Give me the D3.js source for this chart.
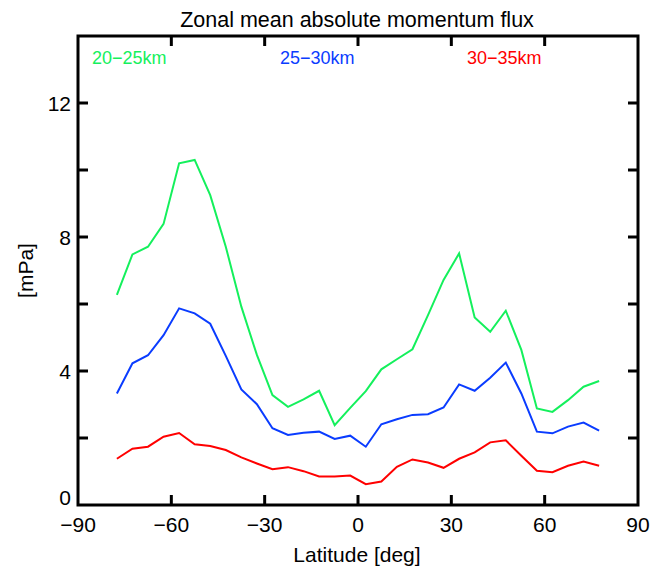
<!DOCTYPE html>
<html>
<head>
<meta charset="utf-8">
<script src="https://cdn.jsdelivr.net/npm/d3@7"></script>
<style>
  html, body { margin: 0; padding: 0; background: #fff; }
  svg { display: block; font-family: "Liberation Sans", Arial, Helvetica, sans-serif; }
</style>
</head>
<body>
<svg id="chart" width="650" height="571"></svg>
<script>
const latitudes = [-77.5,-72.5,-67.5,-62.5,-57.5,-52.5,-47.5,-42.5,-37.5,-32.5,-27.5,-22.5,-17.5,-12.5,-7.5,-2.5,
                   2.5,7.5,12.5,17.5,22.5,27.5,32.5,37.5,42.5,47.5,52.5,57.5,62.5,67.5,72.5,77.5];
const flux20_25 = [6.27,7.48,7.71,8.39,10.20,10.30,9.25,7.71,5.92,4.48,3.28,2.93,3.15,3.41,2.38,2.90,
                   3.40,4.05,4.35,4.65,5.67,6.72,7.51,5.60,5.17,5.80,4.63,2.88,2.78,3.13,3.53,3.70];
const flux25_30 = [3.33,4.23,4.47,5.07,5.87,5.72,5.41,4.45,3.45,3.01,2.29,2.09,2.16,2.19,1.97,2.07,
                   1.74,2.41,2.56,2.69,2.71,2.91,3.60,3.41,3.80,4.25,3.33,2.19,2.14,2.34,2.46,2.22];
const flux30_35 = [1.38,1.68,1.74,2.04,2.15,1.81,1.76,1.64,1.42,1.24,1.07,1.13,1.01,0.85,0.85,0.88,
                   0.62,0.70,1.14,1.36,1.27,1.11,1.38,1.57,1.87,1.93,1.47,1.02,0.98,1.17,1.30,1.17];
const seriesNames = ["20\u221225km", "25\u221230km", "30\u221235km"];
const seriesColors = ["#14f05c", "#0a3cff", "#ff0000"];
const xTicks = [-90,-60,-30,0,30,60,90];
const xTickLabels = ["\u221290","\u221260","\u221230","0","30","60","90"];
const yMajorTicks = [0,4,8,12];
const yMinorTicks = [2,6,10];

const svg = d3.select("#chart");
const m = {left: 78, right: 638, top: 36, bottom: 505};
const x = d3.scaleLinear().domain([-90, 90]).range([m.left, m.right]);
const y = d3.scaleLinear().domain([0, 14]).range([m.bottom, m.top]);

const allSeries = [flux20_25, flux25_30, flux30_35];
const line = d3.line().x((d, i) => x(latitudes[i])).y(d => y(d));
allSeries.forEach((s, k) => {
  svg.append("path").datum(s)
    .attr("d", line)
    .attr("fill", "none")
    .attr("stroke", seriesColors[k])
    .attr("stroke-width", 2)
    .attr("stroke-linejoin", "miter");
});

// Frame
svg.append("rect")
  .attr("x", m.left).attr("y", m.top)
  .attr("width", m.right - m.left).attr("height", m.bottom - m.top)
  .attr("fill", "none").attr("stroke", "#000").attr("stroke-width", 3);

const tickLen = 10;
const tg = svg.append("g").attr("stroke", "#000").attr("stroke-width", 3);
xTicks.slice(1, -1).forEach(t => {
  tg.append("line").attr("x1", x(t)).attr("x2", x(t)).attr("y1", m.bottom).attr("y2", m.bottom - tickLen);
  tg.append("line").attr("x1", x(t)).attr("x2", x(t)).attr("y1", m.top).attr("y2", m.top + tickLen);
});
yMajorTicks.concat(yMinorTicks).filter(t => t > 0).forEach(t => {
  tg.append("line").attr("x1", m.left).attr("x2", m.left + tickLen).attr("y1", y(t)).attr("y2", y(t));
  tg.append("line").attr("x1", m.right).attr("x2", m.right - tickLen).attr("y1", y(t)).attr("y2", y(t));
});

xTicks.forEach((t, i) => {
  svg.append("text").attr("x", x(t)).attr("y", 532)
    .attr("text-anchor", "middle").attr("font-size", 21).attr("fill", "#000")
    .text(xTickLabels[i]);
});
yMajorTicks.forEach(t => {
  svg.append("text").attr("x", 71).attr("y", (t === 0 ? y(t) - 8 : y(t)) + 7.5)
    .attr("text-anchor", "end").attr("font-size", 21).attr("fill", "#000")
    .text(t);
});

svg.append("text").attr("x", 357).attr("y", 27)
  .attr("text-anchor", "middle").attr("font-size", 21.5).attr("fill", "#000")
  .text("Zonal mean absolute momentum flux");
svg.append("text").attr("x", 357).attr("y", 562)
  .attr("text-anchor", "middle").attr("font-size", 21).attr("fill", "#000")
  .text("Latitude [deg]");
svg.append("text").attr("transform", `translate(33, ${y(7)}) rotate(-90)`)
  .attr("text-anchor", "middle").attr("font-size", 21).attr("fill", "#000")
  .text("[mPa]");

const legendX = [92, 280, 467];
seriesNames.forEach((n, k) => {
  svg.append("text").attr("x", legendX[k]).attr("y", 64)
    .attr("font-size", 18).attr("fill", seriesColors[k])
    .text(n);
});
</script>
</body>
</html>
